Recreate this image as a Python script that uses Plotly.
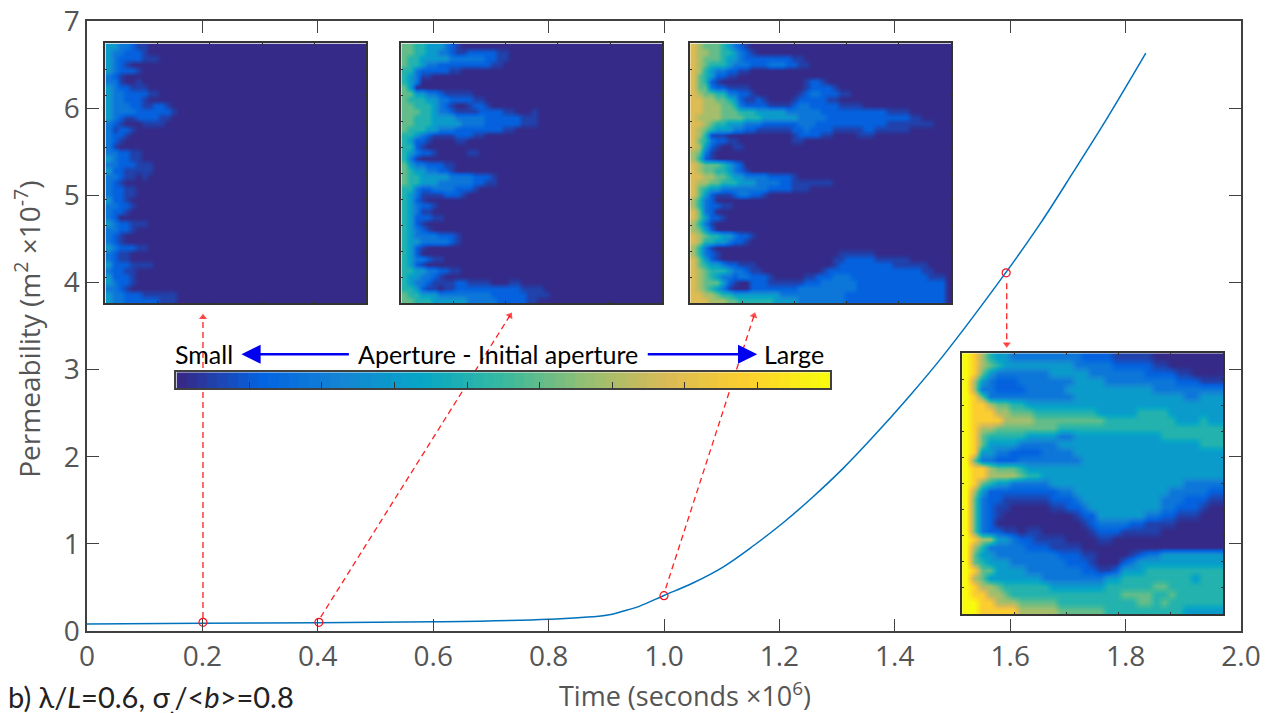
import numpy as np
import plotly.graph_objects as go

# ---------- data ----------
time_x = [0, 0.2, 0.4, 0.6, 0.8, 0.9, 0.93, 0.958, 0.999, 1.051, 1.103, 1.155, 1.207, 1.258, 1.31, 1.362,
          1.426, 1.484, 1.592, 1.652, 1.709, 1.767, 1.835]
perm_y = [0.08, 0.09, 0.095, 0.105, 0.135, 0.18, 0.23, 0.286, 0.405, 0.554, 0.737, 0.978, 1.245, 1.538, 1.863,
          2.225, 2.70, 3.16, 4.109, 4.674, 5.262, 5.873, 6.63]
snap_x = [0.201, 0.402, 1.0, 1.593]
snap_y = [0.1, 0.1, 0.405, 4.11]
arrow_x = [[0.201, 0.201], [0.405, 0.733], [1.003, 1.156], [1.594, 1.594]]
arrow_y = [[0.15, 3.6], [0.16, 3.62], [0.49, 3.62], [3.99, 3.29]]
x_ticks = [0, 0.2, 0.4, 0.6, 0.8, 1.0, 1.2, 1.4, 1.6, 1.8, 2.0]
x_labels = ["0", "0.2", "0.4", "0.6", "0.8", "1.0", "1.2", "1.4", "1.6", "1.8", "2.0"]
y_ticks = [0, 1, 2, 3, 4, 5, 6, 7]

# digit -> colour-scale position (a = orange)
levels = [0, 0.05, 0.12, 0.2, 0.33, 0.45, 0.56, 0.66, 0.76, 1.0, 0.87]
parula = [[0, "#352a87"], [0.125, "#0363e1"], [0.25, "#1485d4"], [0.375, "#06a7c6"], [0.5, "#38b99e"],
          [0.625, "#92bf73"], [0.75, "#d9ba56"], [0.875, "#fcce2e"], [1, "#f9fb0e"]]

panel_a = [
 "4433211", "4332221", "432222111", "4321", "4322210", "321", "331001", "4322111", "433222211", "43322210",
 "4333221122 1", "4333322222 21", "4321122221 1", "3210001111", "31221", "3221", "321", "31", "332211", "432211",
 "33222111", "42211111", "3321101", "321", "32211", "32211", "42210", "33221", "3221", "32",
 "4322111", "33221", "321", "321", "4322211", "3211", "3211", "42221111", "32211", "42221",
 "43221", "3321", "4332221111 11", "43322222211 1",
]
panel_b = [
 "6655444321", "6655443321 12222211", "6554444433 33332211", "6554332222 22222110", "5532222211", "5431100", "543",
 "64", "6644332111 110", "6555443322 2211", "6655543210 01221", "6665543321 11122221100 01", "6655544443 33332222221 11",
 "6655544444 33332222221 11", "6555443332 222222211", "5543211112 2211", "5422100001 1", "5521", "5432210000 011",
 "531", "6433222110", "6544332210", "6554444433 3322210", "6554443333 3322110", "5532233332 221",
 "5431111222 1", "5421", "5432210", "5431100", "5422211", "5421", "54321", "5433332221 0", "5443333321", "5421",
 "542", "5433211", "5421", "5544332211", "5443321", "5433211112 2111100011", "5542110112 2222222222 1111",
 "6554443333 3333322222 21111", "6655544444 4333332222 211",
]
panel_c = [
 "8766654321", "8776655432 1", "8766654432 2222222110", "8765554333 2223332211", "8754332211", "8654221100",
 "8652100000 0000000001 2210", "8663221111 0000000001 22221", "8766553322 1000000012 3322211", "8877665421 1210000122 22211",
 "8877766532 2221111233 222221111", "8877766655 5444443333 3322222222 2221111", "8777766665 5544444433 3332222222 22222221 1",
 "8876554443 3322222233 3222222222 2221111 1111", "8765444332 2111111223 2222111112 2111111", "8751110000 0000000122 2211000011 1",
 "8653221100 000000011", "8742100110", "7631", "7521", "8766654320", "8766554321", "8877665443 33322221",
 "8776655544 4333322111 1111", "8654433333 3332222111", "8642111233 221", "7532", "7532211", "8632", "8642210",
 "7531", "7642", "8765544322 1", "8755443221", "7531", "7532100000 0000000000 0000011111 1",
 "8642100000 0000000000 0000112222 2111111", "8654432211 1000000000 0000122222 2222111111", "8765554332 1100000000 0012222222 22222222211",
 "8765433233 2221000001 1222333222 2222222222 111", "8766642100 2221111112 2233333322 2222222222 222", "8765431000 2222222233 3333333322 2222222222 222",
 "8877655444 4444433333 3333332222 2222222222 222", "8887776655 5555444433 3333332222 2222222222 222",
]
panel_d = [
 "9a75443333 3333322221 1111000000 000", "9a76544444 4444333332 2222110000 000", "9a64333333 3444443333 3332222110 000",
 "9743222333 3333444433 3333333222 111", "9733222233 3334444444 4444333333 333", "9a63333333 3333444444 4444444433 444",
 "9aa7665544 4444444444 4444444444 444", "9aaa776665 5555555444 4455554444 444", "9aaaa77776 6666666655 5555555444 544",
 "9a77666666 6655555555 5555555555 555", "9a65555544 4433444444 4444455555 555", "9a64444333 3344444444 4444444444 555",
 "9a44332222 3333444444 4444444444 444", "9633222333 3333344444 4444444444 444", "9aa7666544 4444444444 4444444444 444",
 "9aa7777655 4444444444 4444444444 444", "9a65443333 3444444444 4444444433 333", "9742222222 2233444444 4444443333 322",
 "9632211111 1222344444 4444433322 211", "9632110000 0112234444 4444433222 100", "9632100000 0000122444 4443322111 000",
 "9632000000 0000012333 3221111000 000", "9632211011 0000001222 1111100000 000", "9a77443221 1110000110 0000000000 000",
 "9753333322 2111100000 0000000000 000", "9644333333 3322211000 0123344444 444", "9654443333 3332221000 2344444444 444",
 "9a66444433 3333322112 4445555555 555", "9764444444 3333333344 5555555554 555", "9a77655555 5444444455 5555665555 555",
 "9aa7765555 5555555555 6666556555 555", "99aa777666 6655555555 5566565555 555", "99aaaaa777 7766666655 5555555544 444",
]
size_abc = 44
size_d = 33
colorbar_ticks = [i / 9 for i in range(1, 9)]


def grid(rows, n):
    out = []
    for r in rows:
        s = r.replace(" ", "").ljust(n, "0")[:n]
        out.append([levels[int(c, 16)] for c in s])
    return out


# ---------- page geometry (pixels) ----------
W, H = 1267, 713
L, R, T, B = 86.5, 1241, 20.5, 631
FRAME = "#404040"


def dx(p0, p1):
    return [(p0 - L) / (R - L), (p1 - L) / (R - L)]


def dy(p0, p1):
    return [(B - p1) / (B - T), (B - p0) / (B - T)]


def px(p):
    return (p - L) / (R - L)


def py(p):
    return (B - p) / (B - T)


fig = go.Figure()
fig.add_trace(go.Scatter(x=time_x, y=perm_y, mode="lines", line=dict(color="#0072bd", width=1.5),
                         line_shape="spline", showlegend=False, xaxis="x", yaxis="y"))
for ax_, ay_ in zip(arrow_x, arrow_y):
    fig.add_trace(go.Scatter(x=ax_, y=ay_, mode="lines+markers", showlegend=False,
                             line=dict(color="#ff2020", width=1.3, dash="6px,4px"),
                             marker=dict(symbol="triangle-up", angleref="previous", size=[0, 7], color="#ff0000", line_width=0)))
fig.add_trace(go.Scatter(x=snap_x, y=snap_y, mode="markers", showlegend=False,
                         marker=dict(symbol="circle-open", size=8, color="#f01020", line=dict(width=1.2, color="#f01020"))))

panels = [
    (panel_a, size_abc, (105, 366), (43, 303)),
    (panel_b, size_abc, (401, 662), (43, 303)),
    (panel_c, size_abc, (690, 951), (43, 303)),
    (panel_d, size_d, (962, 1223), (353, 614)),
]
axes = {}
for i, (rows, n, xp, yp) in enumerate(panels, start=2):
    fig.add_trace(go.Heatmap(z=grid(rows, n), x0=0.5 / n, dx=1 / n, y0=0.5 / n, dy=1 / n, zmin=0, zmax=1,
                             colorscale=parula, showscale=False, zsmooth="best", xaxis=f"x{i}", yaxis=f"y{i}",
                             hoverinfo="skip"))
    common = dict(showticklabels=False, ticks="inside", ticklen=2, tickcolor="#333333", tickwidth=1, automargin=False,
                  showline=True, linecolor="#333333", linewidth=2, mirror="allticks", showgrid=False, zeroline=False)
    axes[f"xaxis{i}"] = dict(domain=dx(*xp), range=[0, 1], dtick=0.2, anchor=f"y{i}", **common)
    axes[f"yaxis{i}"] = dict(domain=dy(*yp), range=[1, 0], dtick=0.1, anchor=f"x{i}", **common)

# colour bar strip
ramp = np.linspace(0, 1, 64)
fig.add_trace(go.Heatmap(z=[ramp], x=(ramp * 63 + 0.5) / 64, y=[0.5], zmin=0, zmax=1, colorscale=parula, showscale=False,
                         xaxis="x6", yaxis="y6", hoverinfo="skip"))
axes["xaxis6"] = dict(domain=dx(176, 830), range=[0, 1], tickvals=colorbar_ticks, showticklabels=False, ticks="inside",
                      ticklen=6, tickcolor="#333333", tickwidth=1, showline=True, linecolor="#404040", linewidth=1.5,
                      mirror=True, showgrid=False, zeroline=False, anchor="y6", automargin=False)
axes["yaxis6"] = dict(domain=dy(372, 388), range=[0, 1], showticklabels=False, ticks="", showline=True,
                      linecolor="#404040", linewidth=1.5, mirror=True, showgrid=False, zeroline=False, anchor="x6",
                      automargin=False)

FONT = "Lato"
AXFONT = "Open Sans"
TICK = dict(family=AXFONT, size=28, color="#555555")
main_common = dict(ticks="inside", ticklen=12, tickcolor=FRAME, tickwidth=1, showline=True, linecolor=FRAME,
                   linewidth=1.5, mirror="allticks", showgrid=False, zeroline=False, tickfont=TICK, automargin=False)

annotations = []


def label(text, xp, yp, size, color="#000000", anchor="center", angle=0, family=FONT):
    annotations.append(dict(text=text, x=px(xp), y=py(yp), xref="paper", yref="paper", showarrow=False,
                            xanchor=anchor, yanchor="middle", textangle=angle,
                            font=dict(family=family, size=size, color=color)))


label("Small", 204, 354, 25)
label("Aperture - Initial aperture", 498, 354, 25)
label("Large", 794, 354, 25)
label("Time (seconds ×10<sup>6</sup>)", 685, 695, 27, "#555555", family=AXFONT)
label("Permeability (m<sup>2</sup> ×10<sup>-7</sup>)", 27, 329, 28, "#555555", angle=-90, family=AXFONT)
label("b) λ/<i>L</i>=0.6, σ<sub>,</sub>/&lt;<i>b</i>&gt;=0.8", 5, 699, 29, "#222222", anchor="left")

for x0, x1 in [(350, 241), (646, 757)]:
    annotations.append(dict(x=px(x1), y=py(354), ax=px(x0), ay=py(354), xref="x domain", yref="y domain", axref="x domain",
                            ayref="y domain", text="", showarrow=True, arrowhead=2, arrowsize=1.6, arrowwidth=2.4,
                            arrowcolor="#0000f0"))

fig.update_layout(
    width=W, height=H, margin=dict(l=L, r=W - R, t=T, b=H - B), paper_bgcolor="white", plot_bgcolor="white",
    xaxis=dict(range=[0, 2], tickvals=x_ticks, ticktext=x_labels, **main_common),
    yaxis=dict(range=[0, 7], tickvals=y_ticks, **main_common),
    annotations=annotations, showlegend=False, **axes,
)

fig.write_html("out.html", config={"displayModeBar": False},
               post_script="document.body.style.margin='0';document.body.style.overflow='hidden';")
